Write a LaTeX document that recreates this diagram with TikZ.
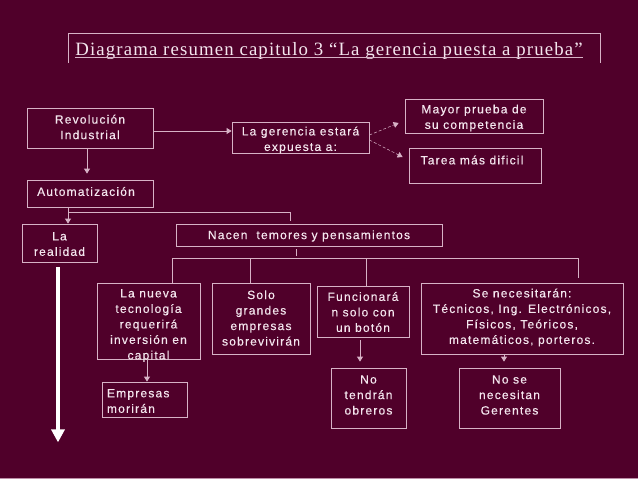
\documentclass[tikz,border=0pt]{standalone}
\usepackage{fontspec}
\setmainfont{Liberation Serif}
\newfontfamily\bxfont[LetterSpace=10,FakeBold=0.4]{Liberation Sans}
\newfontfamily\ttlfont[LetterSpace=6]{Liberation Serif}
\usetikzlibrary{arrows.meta,calc}
\definecolor{bgc}{RGB}{80,0,42}
\definecolor{linec}{RGB}{215,178,198}
\definecolor{txtc}{RGB}{244,230,238}
\begin{document}
\begin{tikzpicture}[x=1pt,y=-1pt,
  bx/.style={draw=linec,line width=0.8pt,inner sep=0pt},
  tx/.style={text=txtc,font=\bxfont\fontsize{12}{15.5}\selectfont,align=center,inner sep=0pt},
  ln/.style={draw=linec,line width=0.8pt},
  arr/.style={ln,-{Triangle[width=6pt,length=5pt]}},
  arrd/.style={ln,line width=0.5pt,densely dashed,-{Triangle[width=6pt,length=5pt]}},
  big/.style={draw=white,line width=4pt,-{Triangle[width=13pt,length=13pt]}}]
\fill[bgc] (0,0) rectangle (638,479);
\useasboundingbox (0,0) rectangle (638,479);
\draw[draw=linec!80!bgc,line width=1.5pt] (0,478.5) -- (638,478.5);
% title
\draw[ln,line width=0.6pt] (68,63) -- (68,33) -- (600,33) -- (600,63);
\node[text=txtc,font=\ttlfont\fontsize{18.8}{22}\selectfont,anchor=base,inner sep=0pt] (title) at (329,55) {Diagrama resumen capitulo 3 “La gerencia puesta a prueba”};
\draw[ln,line width=0.7pt] ($(title.base west)+(0,2.5)$) -- ($(title.base east)+(0,2.5)$);
% boxes
\node[bx,minimum width=126pt,minimum height=40pt] (rev) at (90,128) {};
\node[tx] (revt) at (90,127) {Revolución\\Industrial};
\node[bx,minimum width=126pt,minimum height=27pt] (aut) at (90,193.5) {};
\node[tx] (autt) at (86,191.5) {Automatización};
\node[bx,minimum width=137pt,minimum height=31pt] (ger) at (300.5,137.5) {};
\node[tx] (gert) at (300.5,140) {La gerencia estará\\expuesta a:};
\node[bx,minimum width=138pt,minimum height=34pt] (may) at (474,116) {};
\node[tx] (mayt) at (474,118) {Mayor prueba de\\su competencia};
\node[bx,minimum width=132pt,minimum height=35pt] (tar) at (475,165.5) {};
\node[tx] (tart) at (472,160) {Tarea más dificil};
\node[bx,minimum width=75pt,minimum height=38pt] (rea) at (59.5,243) {};
\node[tx] (reat) at (59.5,244) {La\\realidad};
\node[bx,minimum width=266pt,minimum height=22pt] (nac) at (309,235) {};
\node[tx] (nact) at (309,236) {Nacen\ \ temores y pensamientos};
\node[bx,minimum width=103pt,minimum height=76pt] (nue) at (148.5,321) {};
\node[tx] (nuet) at (148.5,325.5) {La nueva\\tecnología\\requerirá\\inversión en\\capital};
\node[bx,minimum width=98pt,minimum height=71pt] (sol) at (261,318.5) {};
\node[tx] (solt) at (261,318) {Solo\\grandes\\empresas\\sobrevivirán};
\node[bx,minimum width=92pt,minimum height=51pt] (fun) at (363,311.5) {};
\node[tx] (funt) at (363,312) {Funcionará\\n solo con\\un botón};
\node[bx,minimum width=202pt,minimum height=71pt] (sen) at (522,318.5) {};
\node[tx] (sent) at (522,317.5) {Se necesitarán:\\Técnicos, Ing. Electrónicos,\\Físicos, Teóricos,\\matemáticos, porteros.};
\node[bx,minimum width=85pt,minimum height=35pt] (emp) at (144.5,399.5) {};
\node[tx,text width=76pt,align=left] (empt) at (145,401) {Empresas\\morirán};
\node[bx,minimum width=75pt,minimum height=60pt] (ten) at (368.5,398) {};
\node[tx] (tent) at (368.5,395) {No\\tendrán\\obreros};
\node[bx,minimum width=101pt,minimum height=60pt] (nse) at (509.5,398) {};
\node[tx] (nset) at (509.5,395) {No se\\necesitan\\Gerentes};
% connectors
\draw[arr] ($(rev.south)+(-3,0)$) -- ($(aut.north)+(-3,-6)$);
\coordinate (a1) at ($(rev.east)+(0,3)$);
\draw[arr] (a1) -- (a1 -| ger.west);
\draw[arrd] ($(ger.east)+(0,-2.5)$) -- ($(may.west)+(-6,7)$);
\draw[arrd] ($(ger.east)+(0,2.5)$) -- ($(tar.west)+(-6,-8.5)$);
\coordinate (c1) at ($(aut.south)+(-22,0)$);
\draw[arr] (c1) -- (c1 |- rea.north);
\draw[ln] ($(c1)+(0,5)$) -| ($(nac.north)+(-19,-3)$);
\draw[ln] ($(nac.south)+(-13,3)$) -- ($(nac.south)+(-13,10)$);
\coordinate (bL) at ($(nue.north)+(23.5,-24)$);
\coordinate (bR) at ($(sen.north)+(56,-24)$);
\draw[ln] ($(nue.north)+(23.5,0)$) -- (bL) -- (bR) -- ($(sen.north)+(56,-5)$);
\draw[ln] ($(sol.north)+(-11,0)$) -- ($(sol.north)+(-11,-24)$);
\draw[ln] ($(fun.north)+(3,0)$) -- ($(fun.north)+(3,-27)$);
\draw[arr] ($(nue.south)+(-1.5,0)$) -- ($(emp.north)+(2.5,0)$);
\draw[arr] ($(fun.south)+(-3,3)$) -- ($(ten.north)+(-8.5,-6)$);
\draw[arr] ($(sen.south)+(-18,0)$) -- ($(nse.north)+(-5.5,-6)$);
\coordinate (bigend) at ($(rea.south)+(-1.5,180)$);
\draw[big] ($(rea.south)+(-1.5,5)$) -- (bigend);
\end{tikzpicture}
\end{document}
